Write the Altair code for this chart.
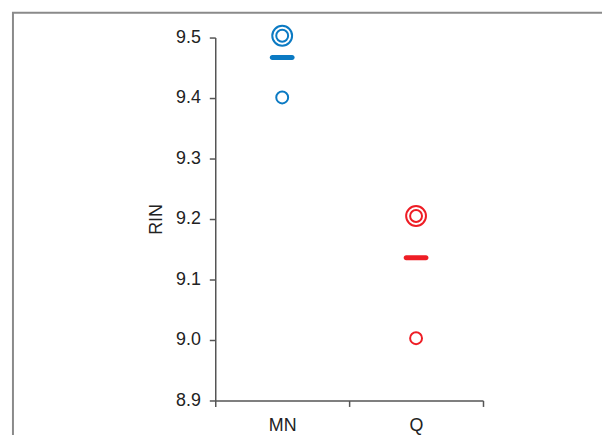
import altair as alt
import pandas as pd

groups = ["MN", "MN", "MN", "Q", "Q", "Q"]
rin = [9.503, 9.503, 9.401, 9.205, 9.205, 9.003]
categories = ["MN", "Q"]
means = [9.467, 9.136]
y_ticks = [8.9, 9.0, 9.1, 9.2, 9.3, 9.4, 9.5]
colors = ["#0b7ac3", "#ee1d25"]

# duplicate index (stacked ring for repeated value)
seen = {}
dup = []
for g, v in zip(groups, rin):
    k = (g, v)
    dup.append(seen.get(k, 0))
    seen[k] = seen.get(k, 0) + 1

pts = pd.DataFrame({"group": groups, "RIN": rin, "dup": dup})
mdf = pd.DataFrame({"group": categories, "RIN": means})

W, H = 270, 366
FONT = "Liberation Sans"

xsc = alt.Scale(domain=categories, paddingInner=0, paddingOuter=0)
ysc = alt.Scale(domain=[8.9, 9.5], nice=False, zero=False)
csc = alt.Scale(domain=categories, range=colors)

xax = alt.Axis(title=None, labelAngle=0, tickBand="extent", tickSize=6,
               labelPadding=10, labelFontSize=18, labelColor="#222222",
               labelFont=FONT, domainColor="#555555", tickColor="#555555",
               domainWidth=1.5, tickWidth=1.5, grid=False)
yax = alt.Axis(title="RIN", values=y_ticks, format=".1f", tickSize=6,
               labelPadding=9, labelFontSize=18, labelColor="#222222",
               labelFont=FONT, titleFont=FONT, titleFontSize=18,
               titleFontWeight="normal", titleColor="#222222", titlePadding=10,
               domainColor="#555555", tickColor="#555555",
               domainWidth=1.5, tickWidth=1.5, grid=False)

frame = alt.Chart(mdf).mark_rect(fill=None, stroke="#8a8a8a", strokeWidth=2).encode(
    x=alt.value(-204), x2=alt.value(420), y=alt.value(-25), y2=alt.value(430)
).transform_filter(alt.datum.group == "MN")

points = alt.Chart(pts).mark_point(shape="circle", filled=False, strokeWidth=2, opacity=1).encode(
    x=alt.X("group:N", scale=xsc, axis=xax),
    y=alt.Y("RIN:Q", scale=ysc, axis=yax),
    color=alt.Color("group:N", scale=csc, legend=None),
    size=alt.Size("dup:Q", scale=alt.Scale(domain=[0, 1], range=[144, 400]), legend=None),
)

mean_ticks = alt.Chart(mdf).mark_tick(thickness=5, size=25, cornerRadius=2.5, opacity=1).encode(
    x=alt.X("group:N", scale=xsc),
    y=alt.Y("RIN:Q", scale=ysc),
    color=alt.Color("group:N", scale=csc, legend=None),
)

chart = alt.layer(frame, points, mean_ticks).properties(
    width=W, height=H,
    autosize=alt.AutoSizeParams(type="none"),
    padding={"left": 209, "top": 28, "right": 120, "bottom": 33},
    background="white",
).configure_view(stroke=None)

chart.save("out.html", embed_options={"renderer": "svg", "actions": False})
